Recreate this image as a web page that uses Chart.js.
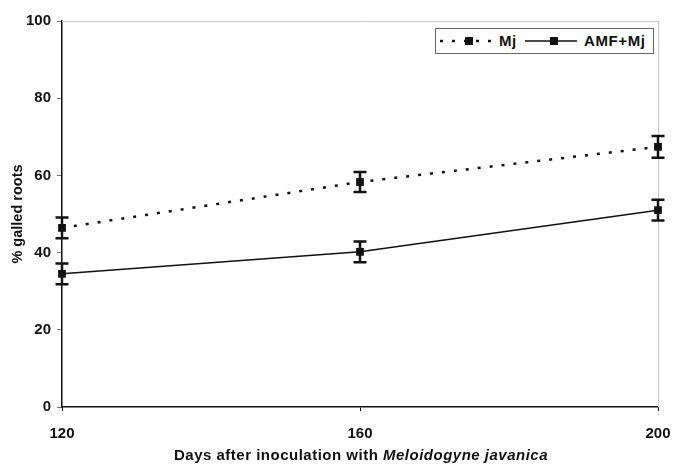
<!DOCTYPE html>
<html>
<head>
<meta charset="utf-8">
<script src="https://cdn.jsdelivr.net/npm/chart.js@4/dist/chart.umd.min.js"></script>
<style>
  html, body { margin: 0; padding: 0; background: #fff; }
  #wrap { position: relative; width: 688px; height: 465px; font-family: "Liberation Sans", Arial, sans-serif; color: #111; }
  #c { position: absolute; left: 0; top: 0; }
  #xtitle { position: absolute; left: 0; width: 722px; top: 446px; text-align: center; font-weight: bold; font-size: 15px; letter-spacing: 0.5px; }
  #legend { position: absolute; left: 435px; top: 28px; width: 219px; height: 26px; border: 1px solid #666; background: #fff;
            box-sizing: border-box; font-weight: bold; font-size: 15px; letter-spacing: 0.6px; }
  #legend svg, #legend span { position: absolute; top: 0; }
  #legend span { line-height: 24px; }
</style>
</head>
<body>
<div id="wrap">
  <canvas id="c" width="688" height="465"></canvas>
  <div id="legend">
    <svg style="left:2px" width="60" height="24"><line x1="2" y1="12" x2="60" y2="12" stroke="#111" stroke-width="2.5" stroke-dasharray="3,9"/><rect x="27" y="8" width="8" height="8" fill="#111"/></svg>
    <span style="left:63px">Mj</span>
    <svg style="left:89px" width="52" height="24"><line x1="0" y1="12" x2="52" y2="12" stroke="#111" stroke-width="1.5"/><rect x="25" y="8" width="8" height="8" fill="#111"/></svg>
    <span style="left:148px">AMF+Mj</span>
  </div>
  <div id="xtitle">Days after inoculation with <i>Meloidogyne javanica</i></div>
</div>
<script>
// Sampling days and percentage of galled roots (mean ± error)
const days = [120, 160, 200];
const mjValues = [46.4, 58.3, 67.4];
const mjErrors = [2.7, 2.6, 2.8];
const amfValues = [34.5, 40.2, 51.0];
const amfErrors = [2.7, 2.7, 2.7];
const yTicks = [0, 20, 40, 60, 80, 100];

const ink = '#111';

// Vertical error bars with caps, placed through the chart scales
const errorBars = {
  id: 'errorBars',
  afterDatasetsDraw(chart) {
    const ctx = chart.ctx;
    const yScale = chart.scales.y;
    chart.data.datasets.forEach((ds, i) => {
      const meta = chart.getDatasetMeta(i);
      ctx.save();
      ctx.strokeStyle = ink;
      ctx.lineWidth = 2.5;
      meta.data.forEach((pt, j) => {
        const v = ds.data[j].y, e = ds.errors[j];
        const yTop = yScale.getPixelForValue(v + e);
        const yBot = yScale.getPixelForValue(v - e);
        const x = pt.x;
        ctx.beginPath();
        ctx.moveTo(x, yTop); ctx.lineTo(x, yBot);
        ctx.moveTo(x - 6.5, yTop); ctx.lineTo(x + 6.5, yTop);
        ctx.moveTo(x - 6.5, yBot); ctx.lineTo(x + 6.5, yBot);
        ctx.stroke();
      });
      ctx.restore();
    });
  }
};

// Light frame on the top and right of the plot area
const frame = {
  id: 'frame',
  beforeDatasetsDraw(chart) {
    const { ctx, chartArea: a } = chart;
    ctx.save();
    ctx.strokeStyle = '#c8c8c8';
    ctx.lineWidth = 1;
    ctx.beginPath();
    ctx.moveTo(a.left, a.top + 0.5); ctx.lineTo(a.right + 0.5, a.top + 0.5); ctx.lineTo(a.right + 0.5, a.bottom);
    ctx.stroke();
    ctx.restore();
  }
};

const toPoints = (vals) => vals.map((v, i) => ({ x: days[i], y: v }));

new Chart(document.getElementById('c'), {
  type: 'line',
  data: {
    datasets: [
      {
        label: 'Mj',
        data: toPoints(mjValues),
        errors: mjErrors,
        borderColor: ink,
        backgroundColor: ink,
        borderWidth: 2.5,
        borderDash: [3, 9],
        pointStyle: 'rect',
        pointRadius: 5.5,
        pointBorderWidth: 0,
        tension: 0,
        clip: false
      },
      {
        label: 'AMF+Mj',
        data: toPoints(amfValues),
        errors: amfErrors,
        borderColor: ink,
        backgroundColor: ink,
        borderWidth: 1.5,
        pointStyle: 'rect',
        pointRadius: 5.5,
        pointBorderWidth: 0,
        tension: 0,
        clip: false
      }
    ]
  },
  options: {
    responsive: false,
    animation: false,
    layout: { padding: { left: 9, top: 21, right: 30, bottom: 0 } },
    plugins: { legend: { display: false }, tooltip: { enabled: false } },
    scales: {
      x: {
        type: 'linear',
        min: 120, max: 200,
        afterBuildTicks: (s) => { s.ticks = days.map(v => ({ value: v })); },
        afterFit: (s) => { s.height = 58; },
        border: { color: ink, width: 1.5 },
        grid: { display: true, drawOnChartArea: false, color: ink, tickLength: 4 },
        ticks: { color: ink, padding: 14, maxRotation: 0, font: { family: 'Liberation Sans', weight: 'bold', size: 15 } }
      },
      y: {
        min: 0, max: 100,
        afterBuildTicks: (s) => { s.ticks = yTicks.map(v => ({ value: v })); },
        afterFit: (s) => { s.width = 53; },
        border: { color: ink, width: 1.5 },
        grid: { display: true, drawOnChartArea: false, color: '#777', tickLength: 5 },
        ticks: { color: ink, padding: 6, font: { family: 'Liberation Sans', weight: 'bold', size: 15 } },
        title: { display: true, text: '% galled roots', color: ink, padding: { top: 0, bottom: 2 },
                 font: { family: 'Liberation Sans', weight: 'bold', size: 14.5 } }
      }
    }
  },
  plugins: [frame, errorBars]
});
</script>
</body>
</html>
